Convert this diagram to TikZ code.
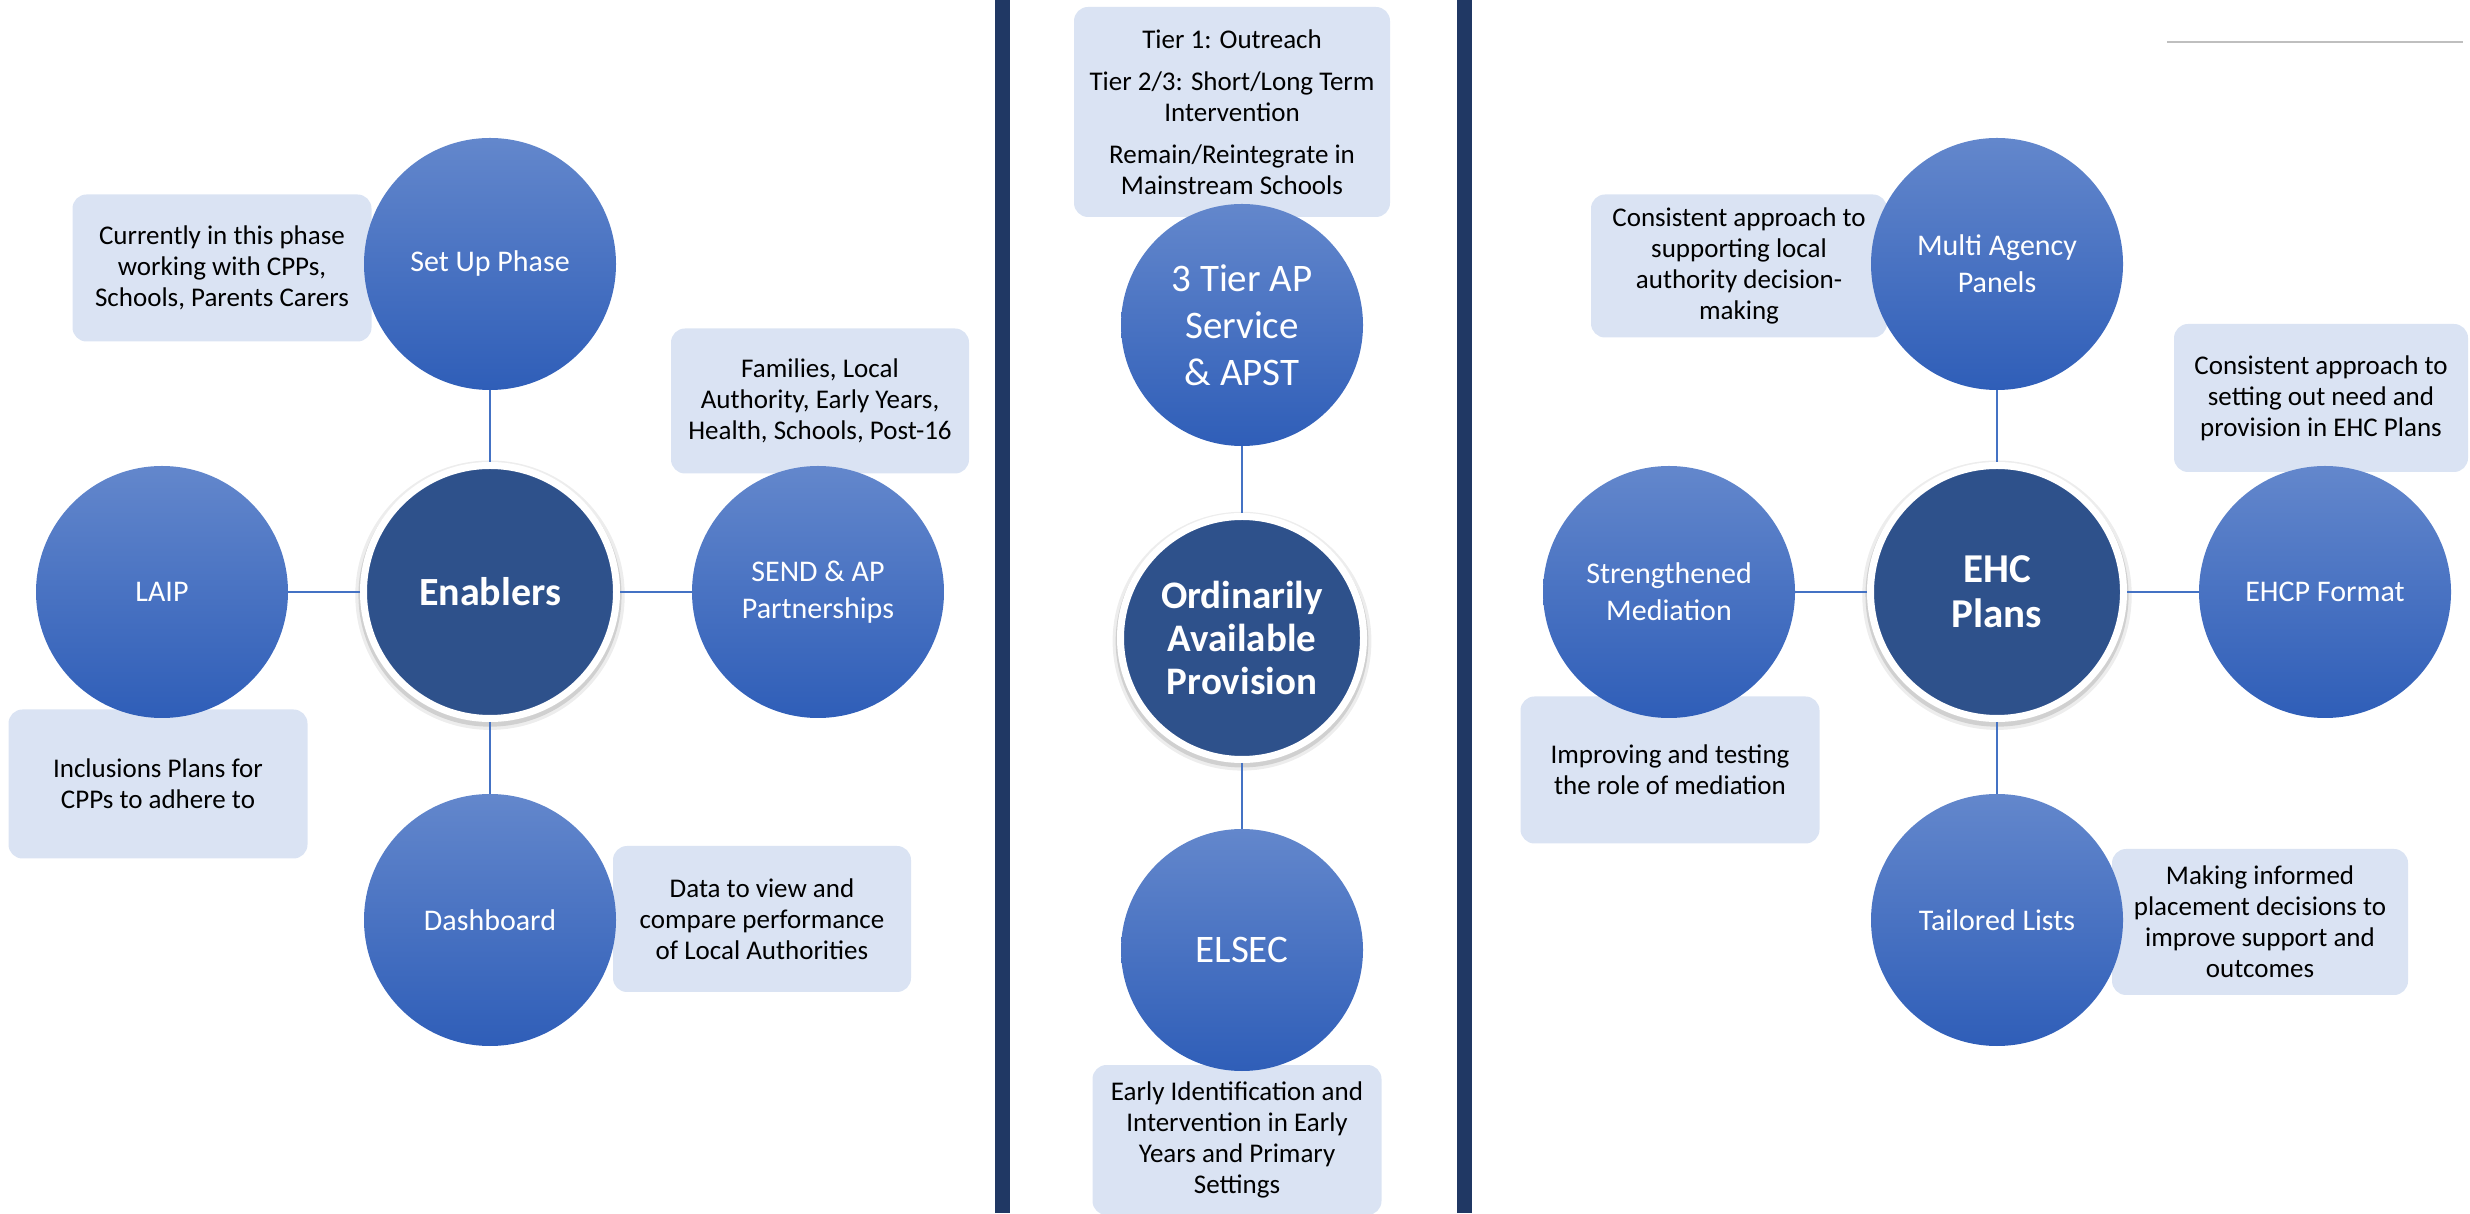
\documentclass[tikz,border=0pt]{standalone}
\usepackage{fontspec}
\setmainfont{Carlito}
\usetikzlibrary{calc, shadows}

\definecolor{leaftop}{RGB}{99,135,204}
\definecolor{leafbot}{RGB}{47,94,184}
\definecolor{hubblue}{RGB}{46,81,139}
\definecolor{notefill}{RGB}{218,227,243}
\definecolor{barnavy}{RGB}{32,56,100}
\definecolor{linkblue}{RGB}{68,114,196}

\begin{document}
\begin{tikzpicture}[x=1pt, y=1pt,
  leaf/.style={circle, minimum size=252pt, inner sep=0pt, top color=leaftop, bottom color=leafbot,
    text=white, align=center, font=\fontsize{30}{37}\selectfont},
  midleaf/.style={leaf, minimum size=242pt, font=\fontsize{39}{47}\selectfont},
  hub/.style={circle, minimum size=253pt, inner sep=0pt, fill=hubblue, draw=white, line width=7pt,
    text=white, align=center, font=\bfseries\fontsize{40}{46}\selectfont,
    drop shadow={shadow xshift=0pt, shadow yshift=-3pt, shadow scale=1.065, fill=black, opacity=0.07},
    drop shadow={shadow xshift=0pt, shadow yshift=-3pt, shadow scale=1.04, fill=black, opacity=0.12}},
  note/.style={rounded corners=14pt, fill=notefill, align=center, inner sep=0pt,
    font=\fontsize{27}{31}\selectfont},
  link/.style={draw=linkblue, line width=2pt}]
\useasboundingbox (0,0) rectangle (2470,1213);

% Panel dividers
\fill[barnavy] (995,0) rectangle (1010,1213);
\fill[barnavy] (1457,0) rectangle (1472,1213);
\draw[gray!50, line width=2pt] (2167,1171) -- (2463,1171);

% Notes, behind the circles
\node[note, minimum width=299pt, minimum height=147pt] (curr) at (222,945) {Currently in this phase\\working with CPPs,\\Schools, Parents Carers};
\node[note, minimum width=298pt, minimum height=145pt] (fam) at (820,812) {Families, Local\\Authority, Early Years,\\Health, Schools, Post-16};
\node[note, minimum width=299pt, minimum height=149pt] (incl) at (158,429) {Inclusions Plans for\\CPPs to adhere to};
\node[note, minimum width=298pt, minimum height=146pt] (data) at (762,294) {Data to view and\\compare performance\\of Local Authorities};
\node[note, minimum width=316pt, minimum height=210pt] (tiers) at (1232,1101) {Tier 1: Outreach\\[11pt]Tier 2/3: Short/Long Term\\Intervention\\[11pt]Remain/Reintegrate in\\Mainstream Schools};
\node[note, minimum width=289pt, minimum height=150pt] (early) at (1237,73) {Early Identification and\\Intervention in Early\\Years and Primary\\Settings};
\node[note, minimum width=296pt, minimum height=143pt] (supp) at (1739,947) {Consistent approach to\\supporting local\\authority decision-\\making};
\node[note, minimum width=294pt, minimum height=148pt] (sett) at (2321,815) {Consistent approach to\\setting out need and\\provision in EHC Plans};
\node[note, minimum width=299pt, minimum height=147pt] (impr) at (1670,443) {Improving and testing\\the role of mediation};
\node[note, minimum width=296pt, minimum height=146pt] (mak) at (2260,291) {Making informed\\placement decisions to\\improve support and\\outcomes};

% Enablers
\node[hub] (enab) at (490,621) {Enablers};
\foreach \ang/\nm/\txt in {90/setup/Set Up Phase, 180/laip/LAIP, 0/send/{SEND \& AP\\Partnerships}, 270/dash/Dashboard}{
  \node[leaf] (\nm) at ($(enab)+(\ang:328)$) {\txt};
  \draw[link] (enab) -- (\nm);
}

% Ordinarily Available Provision
\node[hub, minimum size=243pt, font=\bfseries\fontsize{39}{43}\selectfont] (oap) at (1242,575) {Ordinarily\\Available\\Provision};
\node[midleaf] (tier) at (1242,888) {3 Tier AP\\Service\\\& APST};
\node[midleaf] (elsec) at (1242,263) {ELSEC};
\draw[link] (tier) -- (oap);
\draw[link] (oap) -- (elsec);

% EHC Plans
\node[hub, font=\bfseries\fontsize{41}{45}\selectfont] (ehc) at (1997,621) {EHC\\Plans};
\foreach \ang/\nm/\txt in {90/multi/{Multi Agency\\Panels}, 180/medi/{Strengthened\\Mediation}, 0/fmt/EHCP Format, 270/lists/Tailored Lists}{
  \node[leaf] (\nm) at ($(ehc)+(\ang:328)$) {\txt};
  \draw[link] (ehc) -- (\nm);
}
\end{tikzpicture}
\end{document}
